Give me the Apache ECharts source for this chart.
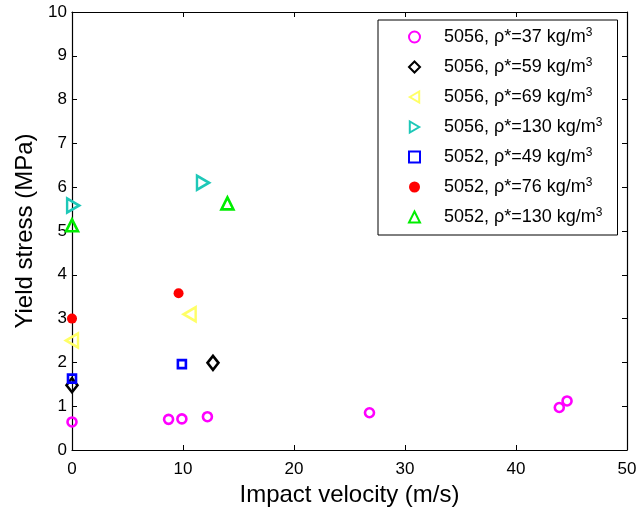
<!DOCTYPE html>
<html>
<head>
<meta charset="utf-8">
<script src="https://cdn.jsdelivr.net/npm/echarts@6/dist/echarts.min.js"></script>
<style>html,body{margin:0;padding:0;background:#fff}#c{width:640px;height:508px}</style>
</head>
<body>
<div id="c"></div>
<script>
// ---- data ----
const seriesNames = [
  '5056, ρ*=37 kg/m3',
  '5056, ρ*=59 kg/m3',
  '5056, ρ*=69 kg/m3',
  '5056, ρ*=130 kg/m3',
  '5052, ρ*=49 kg/m3',
  '5052, ρ*=76 kg/m3',
  '5052, ρ*=130 kg/m3'
];
const s5056_37  = [[0, 0.64], [8.7, 0.70], [9.9, 0.71], [12.2, 0.76], [26.8, 0.85], [43.9, 0.97], [44.6, 1.12]];
const s5056_59  = [[0, 1.48], [12.7, 1.99]];
const s5056_69  = [[0, 2.50], [10.6, 3.10]];
const s5056_130 = [[0.1, 5.58], [11.8, 6.10]];
const s5052_49  = [[0, 1.63], [9.9, 1.96]];
const s5052_76  = [[0, 3.00], [9.6, 3.58]];
const s5052_130 = [[0, 5.13], [14.0, 5.63]];
const xRange = [0, 50, 10];
const yRange = [0, 10, 1];
const xTitle = 'Impact velocity (m/s)';
const yTitle = 'Yield stress (MPa)';

// ---- styles ----
const FONT = 'Liberation Sans, Arial, Helvetica, sans-serif';
const LEFT_TRI = 'path://M0,7 L12,0 L12,14 Z';
const RIGHT_TRI = 'path://M12,7 L0,0 L0,14 Z';
function hollow(c) { return { color: 'rgba(0,0,0,0)', borderColor: c, borderWidth: 2.6, opacity: 1 }; }

const seriesDefs = [
  { data: s5056_37,  symbol: 'circle',  size: 9,        style: hollow('#ff00ff') },
  { data: s5056_59,  symbol: 'diamond', size: [11, 14], style: hollow('#000000') },
  { data: s5056_69,  symbol: LEFT_TRI,  size: [12, 14], style: hollow('#ffff66') },
  { data: s5056_130, symbol: RIGHT_TRI, size: [12, 14], style: hollow('#1ec8b8') },
  { data: s5052_49,  symbol: 'rect',    size: 8,        style: hollow('#0000ff') },
  { data: s5052_76,  symbol: 'circle',  size: 10,       style: { color: '#ff0000', borderWidth: 0, opacity: 1 } },
  { data: s5052_130, symbol: 'triangle',size: [12, 12], style: hollow('#00ee00') }
];

const axisCommon = {
  type: 'value',
  axisLine: { show: true, onZero: false, lineStyle: { color: '#000', width: 1.2 } },
  axisTick: { show: true, inside: true, length: 5, lineStyle: { color: '#000' } },
  splitLine: { show: false },
  axisLabel: { color: '#000', fontSize: 17, fontFamily: FONT }
};

const chart = echarts.init(document.getElementById('c'), null, { renderer: 'canvas' });
chart.setOption({
  animation: false,
  backgroundColor: '#fff',
  grid: { left: 72, right: 13, top: 12, bottom: 58, containLabel: false, outerBoundsMode: 'none' },
  xAxis: [
    Object.assign({}, axisCommon, {
      min: xRange[0], max: xRange[1], interval: xRange[2], position: 'bottom',
      axisLabel: Object.assign({}, axisCommon.axisLabel, { margin: 11 }),
      name: xTitle, nameLocation: 'middle', nameGap: 27,
      nameTextStyle: { color: '#000', fontSize: 24, fontFamily: FONT }
    }),
    Object.assign({}, axisCommon, {
      min: xRange[0], max: xRange[1], interval: xRange[2], position: 'top',
      axisLabel: { show: false }
    })
  ],
  yAxis: [
    Object.assign({}, axisCommon, {
      min: yRange[0], max: yRange[1], interval: yRange[2], position: 'left',
      axisLabel: Object.assign({}, axisCommon.axisLabel, { margin: 5 }),
      name: yTitle, nameLocation: 'middle', nameGap: 33,
      nameTextStyle: { color: '#000', fontSize: 24, fontFamily: FONT }
    }),
    Object.assign({}, axisCommon, {
      min: yRange[0], max: yRange[1], interval: yRange[2], position: 'right',
      axisLabel: { show: false }
    })
  ],
  legend: {
    orient: 'vertical',
    left: 378, top: 20,
    padding: [7, 15, 8, 30],
    itemGap: 10,
    itemWidth: 11, itemHeight: 11,
    borderColor: '#000', borderWidth: 1,
    backgroundColor: '#fff',
    data: seriesNames,
    formatter: function (n) { return '{g|}' + n.slice(0, -1) + '{sup|3}'; },
    textStyle: {
      color: '#000', fontSize: 18, fontFamily: FONT, lineHeight: 20,
      rich: {
        g: { width: 19 },
        sup: { fontSize: 12, fontFamily: FONT, verticalAlign: 'top', lineHeight: 10 }
      }
    }
  },
  series: seriesDefs.map(function (d, i) {
    return {
      name: seriesNames[i], type: 'scatter', xAxisIndex: 0, yAxisIndex: 0,
      data: d.data, symbol: d.symbol, symbolSize: d.size,
      itemStyle: d.style, clip: false
    };
  })
});
</script>
</body>
</html>
